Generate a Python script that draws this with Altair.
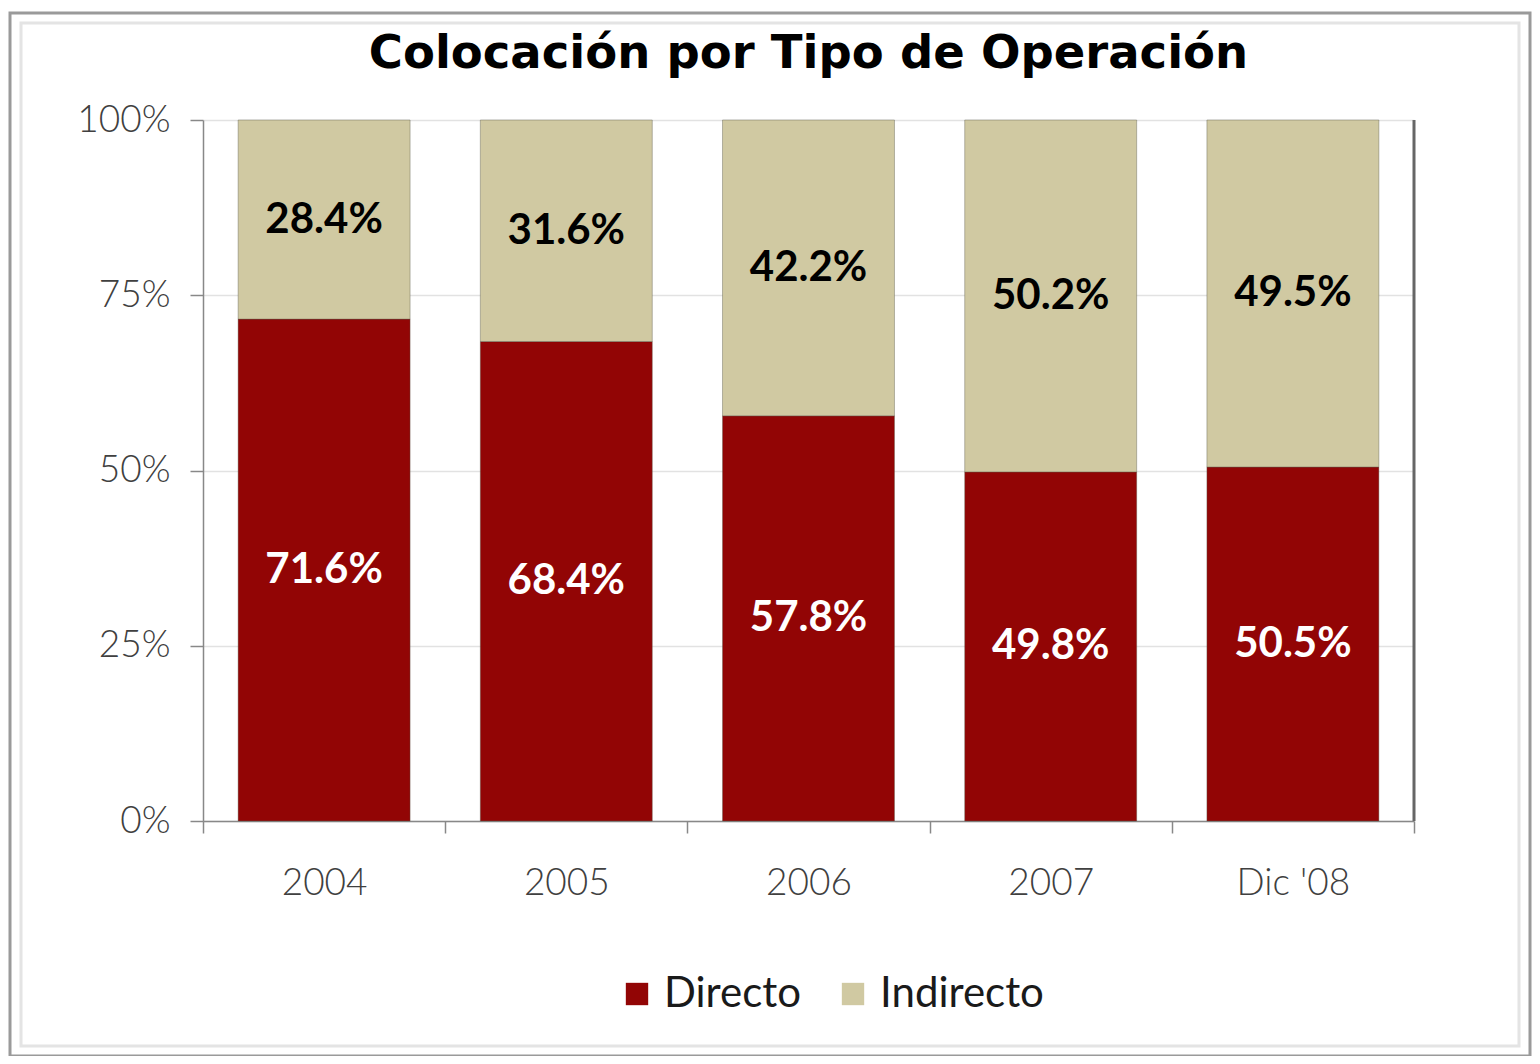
import altair as alt
import pandas as pd

years = ["2004", "2005", "2006", "2007", "Dic '08"]
directo = [71.6, 68.4, 57.8, 49.8, 50.5]
indirecto = [28.4, 31.6, 42.2, 50.2, 49.5]
series = ["Directo", "Indirecto"]
colors = ["#920505", "#D0C9A2"]
label_colors = ["#FFFFFF", "#000000"]
title_text = "Colocación por Tipo de Operación"

rows = []
for i, y in enumerate(years):
    rows.append({"year": y, "serie": "Directo", "ord": 0, "v": directo[i]})
    rows.append({"year": y, "serie": "Indirecto", "ord": 1, "v": indirecto[i]})
df = pd.DataFrame(rows)

W, H = 1211, 701
FONT = "Lato"

base = alt.Chart(df).transform_stack(
    stack="v", groupby=["year"], as_=["v0", "v1"], sort=[alt.SortField("ord")]
).transform_calculate(
    mid="(datum.v0 + datum.v1) / 2",
    label="format(datum.v, '.1f') + '%'",
)

x_enc = alt.X("year:N", sort=years, title=None,
              scale=alt.Scale(paddingInner=0, paddingOuter=0),
              axis=alt.Axis(labelAngle=0, labelFontSize=37, labelColor="#404040",
                            labelFont=FONT, labelFontWeight=300, tickBand="extent",
                            tickSize=12, tickColor="#888888", domainColor="#888888",
                            labelPadding=32, domainWidth=1.5, tickWidth=1.5))

bars = base.mark_bar(width=alt.RelativeBandSize(0.71), stroke="#5a5a4a",
                     strokeWidth=0.8, strokeOpacity=0.5).encode(
    x=x_enc,
    y=alt.Y("v0:Q", title=None,
            scale=alt.Scale(domain=[0, 100]),
            axis=alt.Axis(values=[0, 25, 50, 75, 100], labelExpr="datum.value + '%'",
                          labelFontSize=37, labelColor="#404040", labelFont=FONT,
                          labelFontWeight=300, tickSize=13, tickColor="#888888",
                          domainColor="#888888", labelPadding=20, grid=True,
                          gridColor="#E2E2E2", gridWidth=1.5, domainWidth=1.5,
                          tickWidth=1.5)),
    y2="v1:Q",
    color=alt.Color("serie:N", sort=series,
                    scale=alt.Scale(domain=series, range=colors),
                    legend=alt.Legend(title=None, orient="none", direction="horizontal",
                                      legendX=413, legendY=853,
                                      symbolType="square", symbolSize=500,
                                      symbolStrokeWidth=0, labelFontSize=42,
                                      labelFont=FONT, labelColor="#1a1a1a",
                                      labelLimit=0, columnPadding=30, labelOffset=6)),
    order=alt.Order("ord:Q"),
)

labels = base.mark_text(font=FONT, fontSize=42, fontWeight="bold").encode(
    x=alt.X("year:N", sort=years),
    y=alt.Y("mid:Q"),
    text="label:N",
    color=alt.Color("serie:N", scale=alt.Scale(domain=series, range=label_colors), legend=None),
)

one = pd.DataFrame({"a": [0]})

wall = alt.Chart(one).mark_rule(color="#666666", strokeWidth=3).encode(
    x=alt.value(W), y=alt.value(0), y2=alt.value(H)
)

frame = alt.Chart(one).mark_rect(fill=None, stroke="#9a9a9a", strokeWidth=3).encode(
    x=alt.value(-193), x2=alt.value(1327), y=alt.value(-107), y2=alt.value(936)
)
inner = alt.Chart(one).mark_rect(fill=None, stroke="#e4e4e4", strokeWidth=3).encode(
    x=alt.value(-182), x2=alt.value(1316), y=alt.value(-97), y2=alt.value(926)
)

title = alt.Chart(one).mark_text(
    text=title_text, font="DejaVu Sans", fontSize=46.5, fontWeight="bold", color="#000000",
    align="center", baseline="alphabetic"
).encode(x=alt.value(W / 2), y=alt.value(-52))

chart = alt.layer(frame, inner, bars, wall, labels, title).resolve_scale(
    color="independent"
).properties(
    width=W, height=H,
    autosize=alt.AutoSizeParams(type="none"),
    padding={"left": 195, "top": 112, "right": 118, "bottom": 235},
).configure_view(stroke=None)

chart.save("out.html", embed_options={"renderer": "svg", "actions": False})
